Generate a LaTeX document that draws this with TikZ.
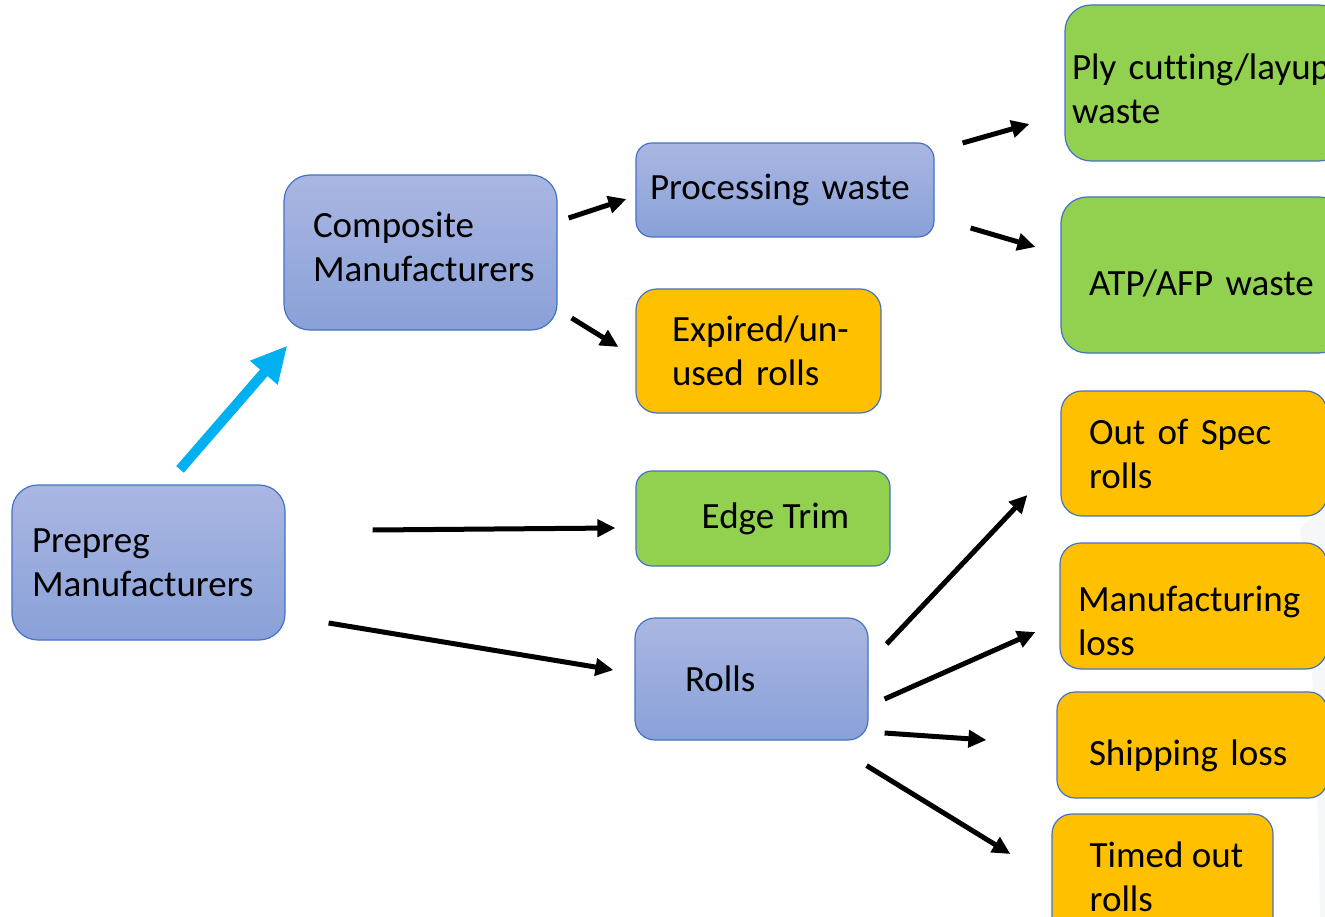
\documentclass[tikz,border=0pt]{standalone}
\usepackage{fontspec}
\setmainfont{Carlito}[Ligatures={NoCommon}]
\usepackage{tikz}
\usetikzlibrary{arrows.meta,calc}
\definecolor{boxedge}{RGB}{68,114,196}
\definecolor{bluetop}{RGB}{170,182,226}
\definecolor{bluebot}{RGB}{137,161,216}
\definecolor{scrapgreen}{RGB}{146,208,80}
\definecolor{scraporange}{RGB}{255,192,0}
\definecolor{feedcyan}{RGB}{0,176,240}
\definecolor{wmgray}{RGB}{245,247,249}
% struts that move the text down / up in its box
\newcommand{\pushdown}[1]{\rule{0pt}{#1pt}}
\newcommand{\pullup}[1]{\rule[-#1pt]{0pt}{0pt}}

\begin{document}
\begin{tikzpicture}[x=1pt,y=-1pt,font={\fontsize{37}{44}\selectfont},
  box/.style={draw=boxedge,line width=1.2pt,align=left},
  stage/.style={box,top color=bluetop,bottom color=bluebot},
  scrap/.style={box,fill=scrapgreen},
  reject/.style={box,fill=scraporange},
  flow/.style={line width=5pt,-{Triangle[length=18pt,width=17pt]}},
  feed/.style={line width=10pt,draw=feedcyan,-{Triangle[length=36pt,width=34pt]}}]
  \useasboundingbox (0,0) rectangle (1325,917);
  \clip (0,0) rectangle (1325,917);
  \fill[wmgray] (1345,488) -- (1300,528) .. controls (1314,650) and (1318,800) .. (1320,917) -- (1345,917) -- cycle;

  % supply chain
  \node[stage,minimum width=273pt,minimum height=155pt,text width=233pt,inner xsep=20pt,rounded corners=26pt]
    (prep) at (148.5,562.5) {Prepreg\\Manufacturers};
  \node[stage,minimum width=273pt,minimum height=155pt,text width=215pt,inner xsep=29pt,rounded corners=26pt]
    (comp) at (420.5,252.5) {Composite\\Manufacturers\pullup{12}};
  \node[stage,minimum width=298pt,minimum height=94pt,text width=270pt,inner xsep=14pt,rounded corners=16pt]
    (proc) at (785,190) {Processing waste};
  \node[stage,minimum width=233pt,minimum height=122pt,text width=133pt,inner xsep=50pt,rounded corners=20pt]
    (rolls) at (751.5,679) {Rolls};

  % waste streams
  \node[reject,minimum width=245pt,minimum height=124pt,text width=173pt,inner xsep=36pt,rounded corners=21pt]
    (expd) at (758.5,351) {\mbox{Expired/un-}\\used rolls};
  \node[scrap,minimum width=254pt,minimum height=95pt,rounded corners=16pt]
    (edge) at (763,518.5) {\hspace*{25pt}Edge Trim};
  \node[scrap,minimum width=280pt,minimum height=156pt,text width=266pt,inner xsep=7pt,rounded corners=26pt]
    (ply) at (1205,83) {\pushdown{38}Ply cutting/layup\\waste};
  \node[scrap,minimum width=284pt,minimum height=156pt,text width=228pt,inner xsep=28pt,rounded corners=26pt]
    (atp) at (1203,275) {\pushdown{42}ATP/AFP waste};
  \node[reject,minimum width=266pt,minimum height=125pt,text width=210pt,inner xsep=28pt,rounded corners=21pt]
    (spec) at (1194,453.5) {Out of Spec\\rolls};
  \node[reject,minimum width=267pt,minimum height=126pt,text width=231pt,inner xsep=18pt,rounded corners=21pt]
    (manu) at (1193.5,606) {\pushdown{56}Manufacturing\\loss};
  \node[reject,minimum width=270pt,minimum height=106pt,text width=206pt,inner xsep=32pt,rounded corners=18pt]
    (ship) at (1192,745) {\pushdown{48}Shipping loss};
  \node[reject,minimum width=221pt,minimum height=126pt,rounded corners=20pt]
    (timed) at (1162.5,877) {\hspace*{8pt}Timed out\\\hspace*{8pt}rolls};

  % arrows
  \draw[feed] ($(prep.north)+(31.5,-15)$) -- ($(comp.south west)+(4,15)$);
  \draw[flow] ($(prep.east)+(87,-32.5)$) -- ($(edge.west)+(-20,9.5)$);
  \draw[flow] ($(prep.east)+(43,60.5)$) -- ($(rolls.west)+(-21,-9)$);
  \draw[flow] ($(comp.east)+(11,-34.5)$) -- ($(proc.west)+(-9,9)$);
  \draw[flow] ($(comp.east)+(14,65.5)$) -- ($(expd.west)+(-17,-4)$);
  \draw[flow] ($(proc.east)+(28,-47)$) -- ($(ply.west)+(-35,41)$);
  \draw[flow] ($(proc.east)+(36,38)$) -- ($(atp.west)+(-25,-28)$);
  \draw[flow] ($(rolls.east)+(18,-35)$) -- ($(spec.west)+(-33,41.5)$);
  \draw[flow] ($(rolls.east)+(16,20)$) -- ($(manu.west)+(-24,26)$);
  \draw[flow] ($(rolls.east)+(16,54)$) -- ($(ship.west)+(-70,-5)$);
  \draw[flow] ($(rolls.south east)+(-2,25)$) -- ($(timed.west)+(-41,-23)$);
\end{tikzpicture}
\end{document}
